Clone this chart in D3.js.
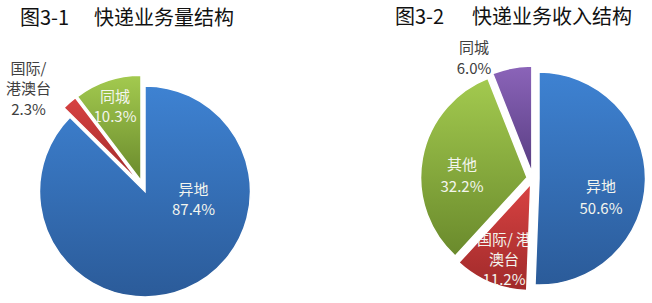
<!DOCTYPE html>
<html>
<head>
<meta charset="utf-8">
<script src="https://cdn.jsdelivr.net/npm/d3@7"></script>
<style>
  body { margin: 0; background: #fff; }
  svg { display: block; font-family: "Noto Sans CJK SC", "Noto Sans", sans-serif; }
</style>
</head>
<body>
<svg id="chart" width="652" height="303"></svg>
<script>
// 图3-1 快递业务量结构
var volCats = ['异地', '国际/港澳台', '同城'];
var volVals = [87.4, 2.3, 10.3];
var volNames = [['异地'], ['国际/', '港澳台'], ['同城']];

// 图3-2 快递业务收入结构
var incCats = ['异地', '国际/港澳台', '其他', '同城'];
var incVals = [50.6, 11.2, 32.2, 6.0];
var incNames = [['异地'], ['国际/ 港', '澳台'], ['其他'], ['同城']];

// colours: [top, bottom] of each slice gradient
var fills = {
  blue:   ['#3e82d2', '#2b5b99'],
  red:    ['#d84242', '#a02a2a'],
  green:  ['#a3ca4f', '#6a8a2c'],
  purple: ['#8b64b9', '#583d82']
};

var svg = d3.select('#chart');
var defs = svg.append('defs');
var fmt = d3.format('.1f');

Object.keys(fills).forEach(function (k) {
  var lg = defs.append('linearGradient').attr('id', 'g_' + k)
    .attr('x1', 0).attr('y1', 0).attr('x2', 0).attr('y2', 1);
  lg.append('stop').attr('offset', '0%').attr('stop-color', fills[k][0]);
  lg.append('stop').attr('offset', '100%').attr('stop-color', fills[k][1]);
});

function drawPie(cfg) {
  var g = svg.append('g').attr('transform', 'translate(' + cfg.cx + ',' + cfg.cy + ')');
  var pie = d3.pie().sort(null).value(function (d) { return d; });
  var arc = d3.arc().innerRadius(0).outerRadius(cfg.r);
  var arcs = pie(cfg.vals);

  function shift(a) {
    var mid = (a.startAngle + a.endAngle) / 2;
    return [Math.sin(mid) * cfg.explode, -Math.cos(mid) * cfg.explode];
  }

  g.selectAll('path.slice').data(arcs).enter().append('path')
    .attr('class', 'slice')
    .attr('transform', function (a) { return 'translate(' + shift(a) + ')'; })
    .attr('d', arc)
    .attr('fill', function (a, i) { return 'url(#g_' + cfg.colors[i] + ')'; })
    .attr('stroke', '#fff')
    .attr('stroke-width', 1.5);

  arcs.forEach(function (a, i) {
    var lay = cfg.labels[i];
    var names = cfg.names[i];
    var lines = names.concat([fmt(cfg.vals[i]) + '%']);
    var lg = g.append('g');
    if (lay.inside) {
      // label is cut by its own slice, as in the original
      var id = cfg.id + '_clip' + i;
      defs.append('clipPath').attr('id', id)
        .append('path')
        .attr('transform', 'translate(' + shift(a) + ')')
        .attr('d', arc(a));
      lg.attr('clip-path', 'url(#' + id + ')');
    }
    var y0 = lay.dy - (lines.length - 1) * lay.lh / 2;
    lg.selectAll('text').data(lines).enter().append('text')
      .attr('x', lay.dx)
      .attr('y', function (t, j) { return y0 + j * lay.lh; })
      .attr('text-anchor', 'middle')
      .attr('dominant-baseline', 'central')
      .attr('font-size', 15)
      .attr('fill', lay.inside ? '#f3f5ee' : '#404040')
      .text(function (t) { return t; });
  });
}

function title(x1, x2, y, a, b) {
  var t = svg.append('text').attr('y', y).attr('dominant-baseline', 'central')
    .attr('font-size', 20).attr('fill', '#111');
  t.append('tspan').attr('x', x1).text(a);
  t.append('tspan').attr('x', x2).text(b);
}

title(20, 94, 16, '图3-1', '快递业务量结构');
title(395, 472, 14.5, '图3-2', '快递业务收入结构');

drawPie({
  id: 'vol', cx: 142.8, cy: 186.2, r: 105.5, explode: 5.7,
  vals: volVals, names: volNames,
  colors: ['blue', 'red', 'green'],
  labels: [
    {dx: 50.7, dy: 12.3, lh: 21, inside: true},
    {dx: -114.3, dy: -98.7, lh: 20.5, inside: false},
    {dx: -27.8, dy: -81.2, lh: 20, inside: true}
  ]
});

drawPie({
  id: 'inc', cx: 533, cy: 178.5, r: 106.5, explode: 6,
  vals: incVals, names: incNames,
  colors: ['blue', 'red', 'green', 'purple'],
  labels: [
    {dx: 68, dy: 17.5, lh: 22, inside: true},
    {dx: -29, dy: 80, lh: 20, inside: true},
    {dx: -71, dy: -4.5, lh: 22, inside: true},
    {dx: -59, dy: -122, lh: 21, inside: false}
  ]
});
</script>
</body>
</html>
